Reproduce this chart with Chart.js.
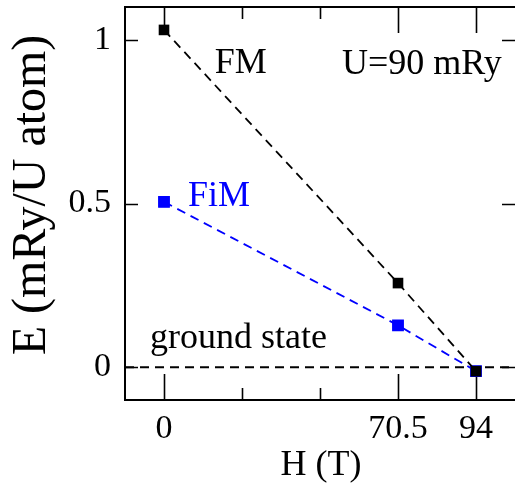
<!DOCTYPE html>
<html><head><meta charset="utf-8">
<script src="https://cdn.jsdelivr.net/npm/chart.js@4/dist/chart.umd.min.js"></script>
<style>html,body{margin:0;padding:0;overflow:hidden;background:#fff}canvas{display:block}</style>
</head><body><canvas id="c" width="515" height="485"></canvas>
<script>
// ---- data ----
const fieldH = [0, 70.5, 94];
const energyFM = [1.03, 0.257, -0.012];
const energyFiM = [0.505, 0.128, -0.012];
const groundH = [-11.75, 105.75];
const groundE = [0, 0];
const xTicks = [0, 23.5, 47, 70.5, 94];
const xTickLabels = ['0', '', '', '70.5', '94'];
const yTicks = [0, 0.5, 1];
const yTickLabels = ['0', '0.5', '1'];
const xTitle = 'H (T)';
const yTitle = 'E (mRy/U atom)';
const noteTexts = ['FM', 'U=90 mRy', 'FiM', 'ground state'];
const noteH = [15.3, 53.6, 7.2, -4.2];
const noteE = [0.899, 0.896, 0.492, 0.058];
const noteColors = ['#000', '#000', '#0000ff', '#000'];

const SERIF = "'Liberation Serif','Times New Roman',serif";
const pts = (xs, ys) => xs.map((x, i) => ({x, y: ys[i]}));

const framePlugin = {
  id: 'frame',
  beforeDatasetsDraw(chart) {
    const {ctx, chartArea: a, scales: {x, y}} = chart;
    ctx.save();
    ctx.strokeStyle = '#000';
    ctx.lineWidth = 2;
    ctx.beginPath();
    ctx.moveTo(a.left, a.top); ctx.lineTo(a.right, a.top);
    ctx.moveTo(a.left, a.bottom); ctx.lineTo(a.right, a.bottom);
    ctx.moveTo(a.left, a.top - 1); ctx.lineTo(a.left, a.bottom + 1);
    ctx.stroke();
    ctx.lineWidth = 1.6;
    ctx.beginPath();
    xTicks.forEach((v, i) => {
      const px = Math.round(x.getPixelForValue(v)) + 0.5;
      const len = xTickLabels[i] ? 26 : 12;
      ctx.moveTo(px, a.bottom); ctx.lineTo(px, a.bottom - len);
      ctx.moveTo(px, a.top); ctx.lineTo(px, a.top + len);
    });
    yTicks.forEach(v => {
      const py = Math.round(y.getPixelForValue(v)) + 0.5;
      ctx.moveTo(a.left, py); ctx.lineTo(a.left + 13, py);
      ctx.moveTo(a.right, py); ctx.lineTo(a.right - 13, py);
    });
    ctx.stroke();
    ctx.restore();
  },
  afterDraw(chart) {
    const {ctx, chartArea: a, scales: {x, y}} = chart;
    ctx.save();
    ctx.font = '36px ' + SERIF;
    ctx.textAlign = 'left';
    ctx.textBaseline = 'alphabetic';
    noteTexts.forEach((t, i) => {
      ctx.fillStyle = noteColors[i];
      ctx.fillText(t, x.getPixelForValue(noteH[i]), y.getPixelForValue(noteE[i]));
    });
    ctx.fillStyle = '#000';
    ctx.textAlign = 'center';
    ctx.font = '36px ' + SERIF;
    ctx.fillText(xTitle, 321, 475);
    ctx.save();
    ctx.translate(45, 195);
    ctx.rotate(-Math.PI / 2);
    ctx.font = '48px ' + SERIF;
    ctx.fillText(yTitle, 0, 0);
    ctx.restore();
    ctx.restore();
  }
};

new Chart(document.getElementById('c'), {
  type: 'scatter',
  data: {
    datasets: [
      {label: 'FM', data: pts(fieldH, energyFM), showLine: true, borderColor: '#000', backgroundColor: '#000',
       borderWidth: 1.8, borderDash: [9, 6], pointStyle: 'rect', pointRadius: 7.5, pointBorderWidth: 0, pointHoverRadius: 7.5},
      {label: 'FiM', data: pts(fieldH, energyFiM), showLine: true, borderColor: '#0000ff', backgroundColor: '#0000ff',
       borderWidth: 1.8, borderDash: [9, 6], pointStyle: 'rect', pointRadius: 7.5, pointBorderWidth: 1.2, pointBorderColor: '#0000ff', pointHoverRadius: 7.5},
      {label: 'ground', data: pts(groundH, groundE), showLine: true, borderColor: '#000',
       borderWidth: 1.8, borderDash: [9, 6], pointRadius: 0, pointHoverRadius: 0}
    ]
  },
  options: {
    responsive: false,
    animation: false,
    events: [],
    layout: {autoPadding: false, padding: {left: 0, right: -2, top: 7, bottom: 0}},
    plugins: {legend: {display: false}, tooltip: {enabled: false}},
    scales: {
      x: {
        type: 'linear', min: -11.75, max: 105.75,
        afterBuildTicks: s => { s.ticks = xTicks.map(v => ({value: v})); },
        afterFit: s => { s.height = 85; s.paddingLeft = 0; s.paddingRight = 0; },
        grid: {display: false, drawTicks: false},
        border: {display: false},
        ticks: {autoSkip: false, maxRotation: 0, padding: 9, color: '#000',
          font: {family: SERIF, size: 34},
          callback: (v, i) => xTickLabels[i]}
      },
      y: {
        type: 'linear', min: -0.1, max: 1.1,
        afterBuildTicks: s => { s.ticks = yTicks.map(v => ({value: v})); },
        afterFit: s => { s.width = 125; s.paddingTop = 0; s.paddingBottom = 0; },
        grid: {display: false, drawTicks: false},
        border: {display: false},
        ticks: {autoSkip: false, padding: 14, color: '#000',
          font: {family: SERIF, size: 34},
          callback: (v, i) => yTickLabels[i]}
      }
    }
  },
  plugins: [framePlugin]
});
</script>
</body></html>
